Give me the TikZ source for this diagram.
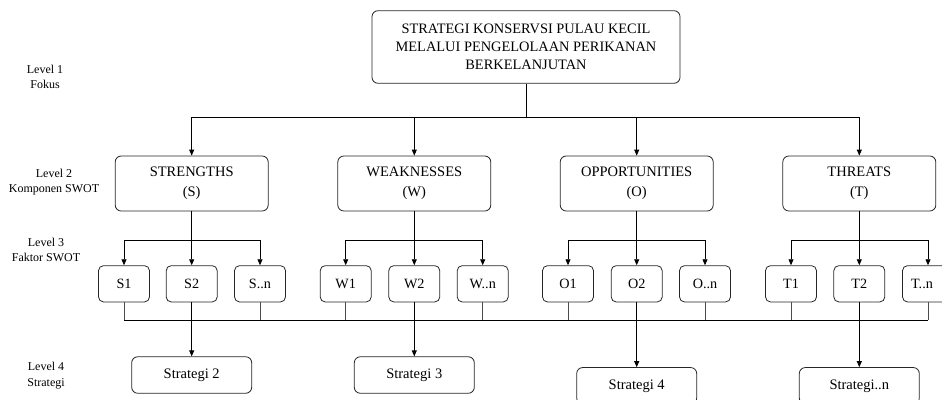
\documentclass[tikz,border=0pt]{standalone}
\usepackage{fontspec}
\setmainfont{Liberation Serif}
\usetikzlibrary{arrows.meta}
\begin{document}
\begin{tikzpicture}[x=1pt,y=-1pt,
  bx/.style={draw=black!85, line width=0.8pt, rounded corners=6pt, align=center, inner sep=0pt},
  topbox/.style={bx, minimum width=308pt, minimum height=72.6pt, font=\fontsize{14.4}{18.3}\selectfont},
  compbox/.style={bx, minimum width=153pt, minimum height=55pt, font=\fontsize{14.5}{20}\selectfont},
  facbox/.style={bx, rounded corners=5pt, minimum width=51pt, minimum height=36.3pt, font=\fontsize{14.2}{16}\selectfont},
  stratbox/.style={bx, minimum width=120pt, minimum height=36.5pt, font=\fontsize{14.5}{16}\selectfont},
  lvl/.style={align=center, inner sep=0pt, font=\fontsize{12}{15.5}\selectfont},
  conn/.style={line width=0.8pt, black},
  thin/.style={line width=0.7pt, black!70},
  arr/.style={-{Triangle[length=6pt,width=5pt]}},
]
\useasboundingbox (0,0) rectangle (942,399);

% level labels
\node[lvl] (l1) at (45,77) {Level 1\\Fokus};
\node[lvl] (l2) at (54,182) {Level 2\\Komponen SWOT};
\node[lvl] (l3) at (46,250) {Level 3\\Faktor SWOT};
\node[lvl] (l4) at (46,375.5) {Level 4\\Strategi};

% top
\node[topbox] (top) at (526,47) {STRATEGI KONSERVSI PULAU KECIL\\MELALUI PENGELOLAAN PERIKANAN\\BERKELANJUTAN};

% components
\node[compbox] (S) at (191.7,183.5) {STRENGTHS\\(S)};
\node[compbox] (W) at (414.3,183.5) {WEAKNESSES\\(W)};
\node[compbox] (O) at (636.7,183.5) {OPPORTUNITIES\\(O)};
\node[compbox] (T) at (859.3,183.5) {THREATS\\(T)};

% factors
\node[facbox] (S1) at (124,283.8) {S1};
\node[facbox] (S2) at (191.7,283.8) {S2};
\node[facbox] (Sn) at (260,283.8) {S..n};
\node[facbox] (W1) at (345.7,283.8) {W1};
\node[facbox] (W2) at (414.3,283.8) {W2};
\node[facbox] (Wn) at (482.7,283.8) {W..n};
\node[facbox] (O1) at (568,283.8) {O1};
\node[facbox] (O2) at (636.7,283.8) {O2};
\node[facbox] (On) at (705,283.8) {O..n};
\node[facbox] (T1) at (791,283.8) {T1};
\node[facbox] (T2) at (859.3,283.8) {T2};
\node[facbox] (Tn) at (928,283.8) {\hspace*{-12pt}T..n};

% strategies
\node[stratbox] (St2) at (191.7,375) {Strategi 2};
\node[stratbox] (St3) at (414.3,375) {Strategi 3};
\node[stratbox] (St4) at (636.7,385.8) {Strategi 4};
\node[stratbox] (Stn) at (859.3,385.8) {Strategi..n};

% top to components
\coordinate (hj) at (526,117.3);
\draw[conn] (top.south) -- (hj);
\draw[conn] (S |- hj) -- (T |- hj);
\foreach \c in {S,W,O,T} {
  \draw[conn,arr] (\c |- hj) -- (\c.north);
}

% components to factors
\coordinate (fy) at (0,240);
\foreach \c/\a/\b/\m in {S/S1/Sn/S2, W/W1/Wn/W2, O/O1/On/O2, T/T1/Tn/T2} {
  \draw[conn,arr] (\c.south) -- (\m.north);
  \draw[conn,arr] (\a |- fy) -- (\a.north);
  \draw[conn,arr] (\b |- fy) -- (\b.north);
  \draw[conn] (\a |- fy) -- (\b |- fy);
}

% factors to bus
\coordinate (by) at (0,320.3);
\draw[conn] (S1 |- by) -- (Tn |- by);
\foreach \f in {S1,Sn,W1,Wn,O1,On,T1,Tn} {
  \draw[thin] (\f.south) -- (\f |- by);
}

% bus to strategies
\draw[conn,arr] (S2.south) -- (St2.north);
\draw[conn,arr] (W2.south) -- (St3.north);
\draw[conn,arr,line width=1.1pt] (O2.south) -- (St4.north);
\draw[conn,arr] (T2.south) -- (Stn.north);
\end{tikzpicture}
\end{document}
